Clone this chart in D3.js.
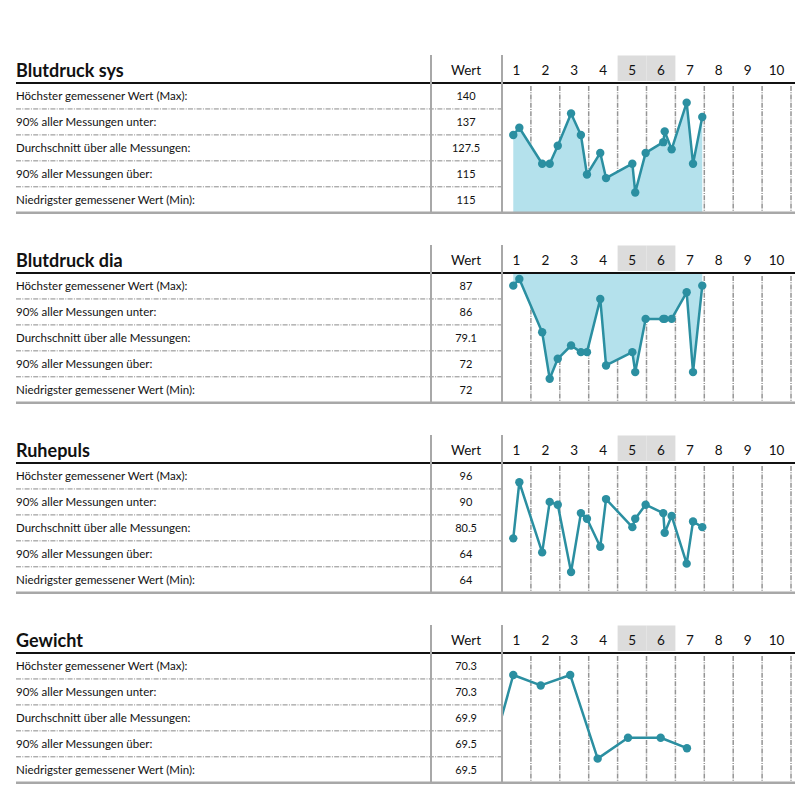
<!DOCTYPE html>
<html>
<head>
<meta charset="utf-8">
<script src="https://cdn.jsdelivr.net/npm/d3@7"></script>
<style>
  html, body { margin: 0; padding: 0; background: #fff; }
  svg { display: block; font-family: Lato, "Noto Sans", sans-serif; }
</style>
</head>
<body>
<script>
// ---------- data ----------
const titles = ["Blutdruck sys", "Blutdruck dia", "Ruhepuls", "Gewicht"];
const rowLabels = [
  "Höchster gemessener Wert (Max):",
  "90% aller Messungen unter:",
  "Durchschnitt über alle Messungen:",
  "90% aller Messungen über:",
  "Niedrigster gemessener Wert (Min):"
];
const dayLabels = ["1", "2", "3", "4", "5", "6", "7", "8", "9", "10"];
const weekendDays = [5, 6];

const sysStats = [140, 137, 127.5, 115, 115];
const diaStats = [87, 86, 79.1, 72, 72];
const pulsStats = [96, 90, 80.5, 64, 64];
const weightStats = [70.3, 70.3, 69.9, 69.5, 69.5];

// measurement times as fractional days (day number + time of day)
const bpTimes = [1.39, 1.60, 2.39, 2.65, 2.93, 3.39, 3.73, 3.94, 4.40, 4.60,
                 5.51, 5.61, 5.97, 6.58, 6.63, 6.87, 7.39, 7.61, 7.93];
const sysValues = [131, 133, 123, 123, 128, 137, 131, 120, 126, 119,
                   123, 115, 126, 129, 132, 127, 140, 123, 136];
const diaValues = [86, 87, 79, 72, 75, 77, 76, 76, 84, 74,
                   76, 73, 81, 81, 81, 81, 85, 73, 86];
const pulsValues = [76, 96, 71, 89, 88, 64, 85, 83, 73, 90,
                    80, 83, 88, 85, 78, 84, 67, 82, 80];
const weightTimes = [0.585, 1.39, 2.34, 3.36, 4.31, 5.36, 6.49, 7.40];
const weightValues = [69.5, 70.3, 70.2, 70.3, 69.5, 69.7, 69.7, 69.6];

// value ranges shown in each chart area (bottom .. top of area)
const yDomains = [[109.36, 145.47], [68.40, 87.9], [56.64, 102.86], [69.27, 70.51]];
const areaModes = ["bottom", "top", null, null];

const panelStats = [sysStats, diaStats, pulsStats, weightStats];
const panelTimes = [bpTimes, bpTimes, bpTimes, weightTimes];
const panelValues = [sysValues, diaValues, pulsValues, weightValues];

// ---------- drawing ----------
const W = 795, H = 795;
const svg = d3.select("body").append("svg").attr("width", W).attr("height", H);
const defs = svg.append("defs");

const LINE = "#2b8fa1";
const FILL = "#b4e1ec";
const GRID = "#959595";

const x = d3.scaleLinear().domain([1, 11]).range([502, 791]);
const rowH = 25.95;

titles.forEach((title, i) => {
  const oy = i * 190;
  const headerY = 83 + oy;
  const bottomY = 212.7 + oy;
  const g = svg.append("g");

  const y = d3.scaleLinear().domain(yDomains[i]).range([bottomY, headerY]);

  // weekend header background
  weekendDays.forEach(d => {
    g.append("rect")
      .attr("x", x(d)).attr("y", 55.5 + oy)
      .attr("width", x(d + 1) - x(d)).attr("height", 25.5)
      .attr("fill", "#dcdcdc");
  });

  // day grid lines
  d3.range(2, 12).forEach(d => {
    g.append("line")
      .attr("x1", x(d)).attr("x2", x(d))
      .attr("y1", headerY + 3).attr("y2", bottomY - 1.5)
      .attr("stroke", GRID).attr("stroke-width", 1.5)
      .attr("stroke-dasharray", "5,1.2,1,1.2");
  });

  // row separators
  d3.range(1, 5).forEach(k => {
    g.append("line")
      .attr("x1", 16).attr("x2", 502)
      .attr("y1", headerY + k * rowH).attr("y2", headerY + k * rowH)
      .attr("stroke", "#8a8a8a").attr("stroke-width", 1)
      .attr("stroke-dasharray", "5,1.3,1,1.3");
  });

  // clip for chart area
  const clipId = "clip" + i;
  defs.append("clipPath").attr("id", clipId)
    .append("rect").attr("x", 502).attr("y", headerY).attr("width", 293).attr("height", bottomY - headerY);

  const pts = panelTimes[i].map((t, j) => ({ t: t, v: panelValues[i][j] }));
  const cg = g.append("g").attr("clip-path", "url(#" + clipId + ")");

  if (areaModes[i]) {
    const area = d3.area()
      .x(d => x(d.t))
      .y0(areaModes[i] === "bottom" ? bottomY : headerY)
      .y1(d => y(d.v));
    cg.append("path").datum(pts).attr("d", area).attr("fill", FILL);
  }

  const line = d3.line().x(d => x(d.t)).y(d => y(d.v));
  cg.append("path").datum(pts).attr("d", line)
    .attr("fill", "none").attr("stroke", LINE).attr("stroke-width", 2.5)
    .attr("stroke-linejoin", "round");
  cg.selectAll("circle").data(pts).enter().append("circle")
    .attr("cx", d => x(d.t)).attr("cy", d => y(d.v)).attr("r", 4.2)
    .attr("fill", LINE);

  // structural lines
  g.append("line").attr("x1", 16).attr("x2", W).attr("y1", headerY).attr("y2", headerY)
    .attr("stroke", "#111").attr("stroke-width", 2);
  g.append("line").attr("x1", 16).attr("x2", W).attr("y1", bottomY).attr("y2", bottomY)
    .attr("stroke", "#a8a8a8").attr("stroke-width", 2.5);
  [431, 502].forEach(vx => {
    g.append("line").attr("x1", vx).attr("x2", vx).attr("y1", 55 + oy).attr("y2", bottomY)
      .attr("stroke", "#a8a8a8").attr("stroke-width", 2);
  });

  // texts
  g.append("text").attr("x", 16).attr("y", 76.7 + oy)
    .attr("font-size", 18).attr("font-weight", "bold").attr("fill", "#111").text(title);
  g.append("text").attr("x", 466).attr("y", 74.5 + oy).attr("text-anchor", "middle")
    .attr("font-size", 13.5).attr("fill", "#111").text("Wert");
  dayLabels.forEach((lab, k) => {
    g.append("text").attr("x", x(k + 1.5)).attr("y", 74.5 + oy).attr("text-anchor", "middle")
      .attr("font-size", 13.5).attr("fill", "#111").text(lab);
  });
  rowLabels.forEach((lab, k) => {
    const cy = headerY + (k + 0.5) * rowH;
    g.append("text").attr("x", 16).attr("y", cy + 4).attr("font-size", 11.5)
      .attr("fill", "#111").text(lab);
    g.append("text").attr("x", 466).attr("y", cy + 3.8).attr("text-anchor", "middle")
      .attr("font-size", 11).attr("fill", "#111").text(String(panelStats[i][k]));
  });
});
</script>
</body>
</html>
